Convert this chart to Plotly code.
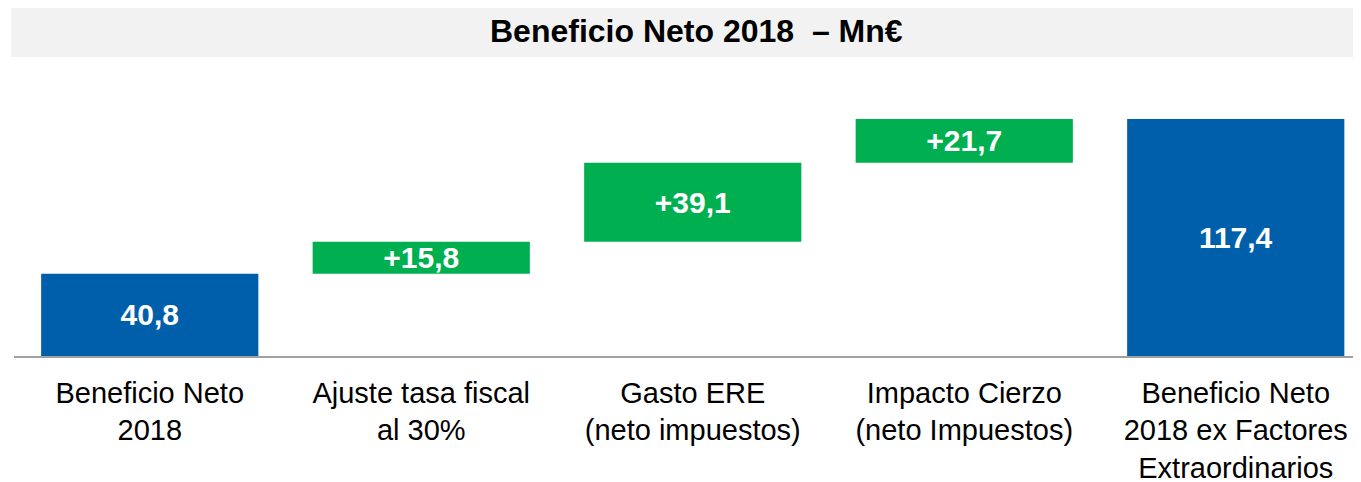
import plotly.graph_objects as go

categories = ["Beneficio Neto<br>2018", "Ajuste tasa fiscal<br>al 30%", "Gasto ERE<br>(neto impuestos)",
              "Impacto Cierzo<br>(neto Impuestos)", "Beneficio Neto<br>2018 ex Factores<br>Extraordinarios"]
values = [40.8, 15.8, 39.1, 21.7, 0]
measures = ["absolute", "relative", "relative", "relative", "total"]
labels = ["40,8", "+15,8", "+39,1", "+21,7", "117,4"]
title = "Beneficio Neto 2018  – Mn€"

BLUE = "#005FAA"
GREEN = "#00B050"
FONT = "Liberation Sans, Arial, sans-serif"

# page body has an 8px default margin; compensate
OFF = 8

fig = go.Figure(go.Waterfall(
    x=list(range(len(categories))),
    y=values,
    measure=measures,
    text=labels,
    textposition="inside",
    insidetextanchor="middle",
    constraintext="none",
    textfont=dict(family=FONT, size=30, color="white", weight="bold"),
    increasing=dict(marker=dict(color=GREEN)),
    decreasing=dict(marker=dict(color="#C00000")),
    totals=dict(marker=dict(color=BLUE)),
    connector=dict(visible=False),
    width=0.8,
    hoverinfo="skip",
))

plot_top, plot_bot, plot_left, W, H = 60, 356, 14, 1361, 482
ph = plot_bot - plot_top
pw = W - plot_left
ymax = ph / (237 / 117.4)
xmax = -0.5 + pw / 271.5

def py(p):
    return (plot_bot - p) / ph

fig.update_layout(
    width=W - OFF, height=H - OFF,
    margin=dict(l=plot_left - OFF, r=0, t=plot_top - OFF, b=H - plot_bot, autoexpand=False),
    paper_bgcolor="white", plot_bgcolor="white",
    showlegend=False,
    font=dict(family=FONT, color="black"),
    xaxis=dict(
        range=[-0.5, xmax],
        tickmode="array", tickvals=list(range(len(categories))), ticktext=categories,
        tickfont=dict(family=FONT, size=29, color="black"),
        showline=True, linecolor="#A0A0A0", linewidth=1.5,
        showgrid=False, zeroline=False,
        ticks="outside", ticklen=10, tickcolor="rgba(0,0,0,0)",
        fixedrange=True,
    ),
    yaxis=dict(range=[0, ymax], visible=False, showgrid=False, zeroline=False, fixedrange=True),
    shapes=[dict(type="rect", xref="paper", yref="paper",
                 x0=(11 - plot_left) / pw, x1=1.02, y0=py(57), y1=py(5),
                 fillcolor="#F2F2F2", line=dict(width=0), layer="below")],
    annotations=[dict(text="<b>" + title + "</b>", xref="paper", yref="paper",
                      x=(696 - plot_left) / pw, y=py(31), xanchor="center", yanchor="middle",
                      showarrow=False, font=dict(family=FONT, size=32, color="black"))],
)

fig.write_html("out.html", config={"displayModeBar": False})
